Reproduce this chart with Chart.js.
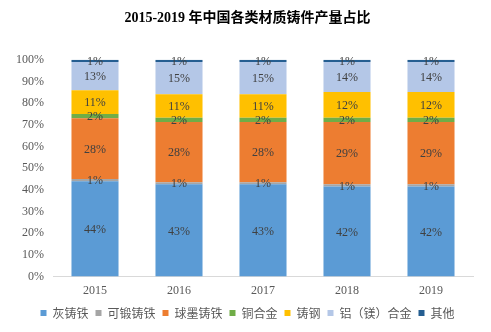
<!DOCTYPE html>
<html>
<head>
<meta charset="utf-8">
<script src="https://cdn.jsdelivr.net/npm/chart.js@4"></script>
<style>
  html, body { margin: 0; padding: 0; background: #fff; }
  #wrap { width: 491px; height: 332px; }
</style>
</head>
<body>
<div id="wrap"><canvas id="castings" width="491" height="332"></canvas></div>
<script>
const years = ['2015', '2016', '2017', '2018', '2019'];

// share of output by casting material, in percent
const grayIron      = [44, 43, 43, 42, 42];
const malleableIron = [1, 1, 1, 1, 1];
const ductileIron   = [28, 28, 28, 29, 29];
const copperAlloy   = [2, 2, 2, 2, 2];
const castSteel     = [11, 11, 11, 12, 12];
const alMgAlloy     = [13, 15, 15, 14, 14];
const others        = [1, 1, 1, 1, 1];

const yTicks = [0, 10, 20, 30, 40, 50, 60, 70, 80, 90, 100];

const series = [
  { label: '灰铸铁',       values: grayIron,      color: '#5B9BD5' },
  { label: '可锻铸铁',     values: malleableIron, color: '#A5A5A5' },
  { label: '球墨铸铁',     values: ductileIron,   color: '#ED7D31' },
  { label: '铜合金',       values: copperAlloy,   color: '#70AD47' },
  { label: '铸钢',         values: castSteel,     color: '#FFC000' },
  { label: '铝（镁）合金', values: alMgAlloy,     color: '#B4C7E7' },
  { label: '其他',         values: others,        color: '#255E91' }
];

// rounded shares don't always add to 100, so stack them as a share of each year's total
const totals = years.map((y, i) => series.reduce((s, d) => s + d.values[i], 0));

const serif = '"Liberation Serif", "Times New Roman", "Noto Sans CJK SC", serif';
const sans = '"Noto Sans CJK SC", "Microsoft YaHei", sans-serif';

// prints the rounded value in the middle of each segment
const segmentLabels = {
  id: 'segmentLabels',
  afterDatasetsDraw(chart) {
    const ctx = chart.ctx;
    ctx.save();
    ctx.font = '12px ' + serif;
    ctx.fillStyle = '#404040';
    ctx.textAlign = 'center';
    ctx.textBaseline = 'middle';
    chart.data.datasets.forEach((ds, di) => {
      chart.getDatasetMeta(di).data.forEach((bar, i) => {
        const mid = (bar.y + bar.base) / 2;
        ctx.fillText(ds.raw[i] + '%', bar.x, mid + 1);
      });
    });
    ctx.restore();
  }
};

// centre title and legend over the whole canvas rather than the padded box,
// and lift the legend a little closer to the year labels
const recenter = {
  id: 'recenter',
  afterLayout(chart) {
    [chart.titleBlock, chart.legend].forEach(box => {
      if (!box) return;
      box.left += 11;
      box.right += 11;
    });
    if (chart.legend) {
      chart.legend.top -= 5;
      chart.legend.bottom -= 5;
    }
  }
};

new Chart(document.getElementById('castings'), {
  type: 'bar',
  data: {
    labels: years,
    datasets: series.map(s => ({
      label: s.label,
      raw: s.values,
      data: s.values.map((v, i) => v / totals[i] * 100),
      backgroundColor: s.color,
      borderWidth: 0,
      categoryPercentage: 0.56,
      barPercentage: 1
    }))
  },
  options: {
    responsive: false,
    animation: false,
    layout: { padding: { left: 0, right: 18, top: 0, bottom: -2 } },
    plugins: {
      title: {
        display: true,
        text: '2015-2019 年中国各类材质铸件产量占比',
        color: '#000',
        font: { family: serif, size: 14, weight: 'bold' },
        padding: { top: 10, bottom: 33 }
      },
      legend: {
        position: 'bottom',
        labels: {
          boxWidth: 6,
          boxHeight: 6,
          padding: 7,
          color: '#595959',
          font: { family: sans, size: 12 }
        }
      },
      tooltip: { enabled: false }
    },
    scales: {
      x: {
        stacked: true,
        grid: { display: false, drawTicks: false },
        border: { color: '#D9D9D9' },
        ticks: { color: '#595959', font: { family: serif, size: 12 }, padding: 7 }
      },
      y: {
        stacked: true,
        min: 0,
        max: 100,
        afterBuildTicks: scale => { scale.ticks = yTicks.map(v => ({ value: v })); },
        afterFit: scale => { scale.width = 53; },
        grid: { display: false, drawTicks: false },
        border: { display: false },
        ticks: {
          color: '#595959',
          font: { family: serif, size: 12 },
          padding: 9,
          callback: v => v + '%'
        }
      }
    }
  },
  plugins: [segmentLabels, recenter]
});
</script>
</body>
</html>
